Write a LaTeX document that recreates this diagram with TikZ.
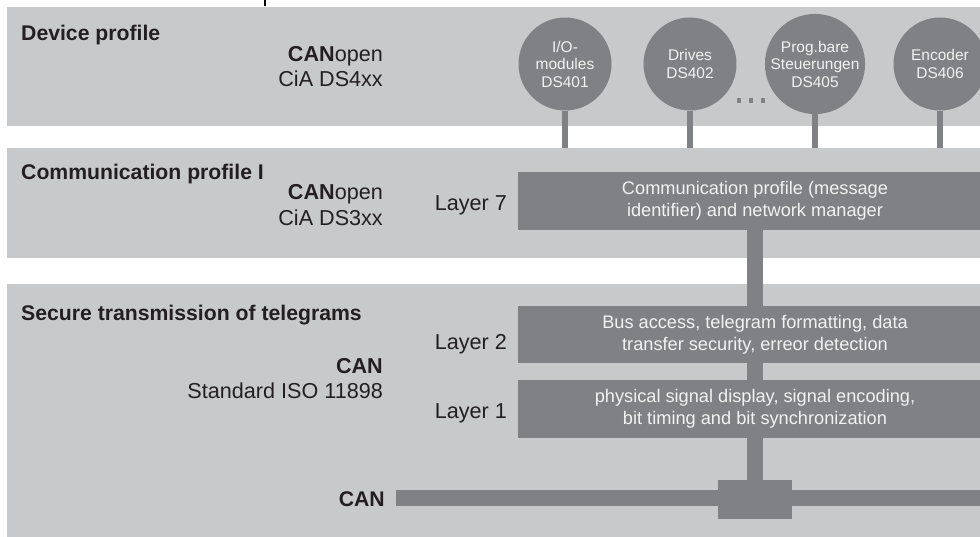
\documentclass[tikz,border=0pt]{standalone}
\usepackage{fontspec}
\setmainfont{Liberation Sans}
\definecolor{panel}{HTML}{C8C9CB}
\definecolor{dark}{HTML}{808185}
\definecolor{ink}{HTML}{231F20}
\definecolor{boxtext}{HTML}{F2F2F2}
\tikzset{
  lbl/.style={inner sep=0pt, text=ink, font=\fontsize{21.6}{24}\selectfont},
  head/.style={inner sep=0pt, text=ink, font=\fontsize{21.2}{24}\selectfont\bfseries},
  layerbox/.style={rectangle, fill=dark, inner sep=0pt, minimum width=474pt, text=boxtext, align=center, font=\fontsize{18.2}{22}\selectfont},
  dev/.style={circle, fill=dark, minimum size=93pt, inner sep=0pt, text=boxtext, align=center, font=\fontsize{15.5}{17.5}\selectfont},
  stem/.style={draw=dark, line width=6pt},
  bus/.style={draw=dark, line width=16pt},
  dotbox/.style={rectangle, fill=dark, minimum size=4.5pt, inner sep=0pt},
}
\begin{document}
\begin{tikzpicture}[x=1pt,y=-1pt]
\clip (0,0) rectangle (980,537);
\fill[white] (0,0) rectangle (980,537);
% panels
\fill[panel] (7,7) rectangle (980,126);
\fill[panel] (7,148) rectangle (980,258);
\fill[panel] (7,284) rectangle (980,537);
% small tick at the top
\draw[black, line width=1.5pt] (265,0) -- (265,6);

% panel 1
\node[head, anchor=base west] (h1) at (21,41) {Device profile};
\node[lbl, anchor=base east] (co1) at (383,62) {\textbf{CAN}open};
\node[lbl, anchor=base east] (cia4) at (383,87) {CiA DS4xx};

\node[dev] (c1) at (565,64) {I/O-\\modules\\DS401};
\node[dev] (c2) at (690,64) {Drives\\DS402};
\node[dev] (c3) at (815,64) {Prog.bare\\Steuerungen\\DS405};
\node[dev] (c4) at (940,64) {Encoder\\DS406};
\coordinate (p2top) at (0,148);
\foreach \c in {c1,c2,c3,c4}{
  \draw[stem] (\c.south) -- (\c.south |- p2top);
}
\node[dotbox] (d1) at (739,100.5) {};
\node[dotbox] (d2) at (751,100.5) {};
\node[dotbox] (d3) at (763,100.5) {};

% panel 2
\node[head, anchor=base west] (h2) at (21,180) {Communication profile I};
\node[lbl, anchor=base east] (co2) at (383,200) {\textbf{CAN}open};
\node[lbl, anchor=base east] (cia3) at (383,226) {CiA DS3xx};
\node[lbl, anchor=base east] (l7) at (507,211) {Layer 7};
\node[layerbox, minimum height=58pt] (comm) at (755,201)
  {Communication profile (message\\identifier) and network manager};

% panel 3
\node[head, anchor=base west] (h3) at (21,320) {Secure transmission of telegrams};
\node[lbl, anchor=base east] (can1) at (383,373) {\textbf{CAN}};
\node[lbl, anchor=base east] (iso) at (383,398) {Standard ISO 11898};
\node[lbl, anchor=base east] (l2) at (507,349) {Layer 2};
\node[lbl, anchor=base east] (l1) at (507,418) {Layer 1};
\node[layerbox, minimum height=57pt] (lay2) at (755,334.5)
  {Bus access, telegram formatting, data\\transfer security, erreor detection};
\node[layerbox, minimum height=58pt] (lay1) at (755,409)
  {physical signal display, signal encoding,\\bit timing and bit synchronization};

% CAN bus
\node[rectangle, fill=dark, minimum width=74pt, minimum height=39pt, inner sep=0pt] (junc) at (755,499.5) {};
\node[inner sep=0pt, text=ink, anchor=base east, font=\fontsize{21.2}{24}\selectfont\bfseries] (canlbl) at (385,506) {CAN};
\coordinate (busstart) at (396,498);
\coordinate (busend) at (985,498);
\draw[bus] (busstart) -- (busend);
\draw[bus] (comm.south) -- (lay2.north);
\draw[bus] (lay2.south) -- (lay1.north);
\draw[bus] (lay1.south) -- (junc.north);
\end{tikzpicture}
\end{document}
